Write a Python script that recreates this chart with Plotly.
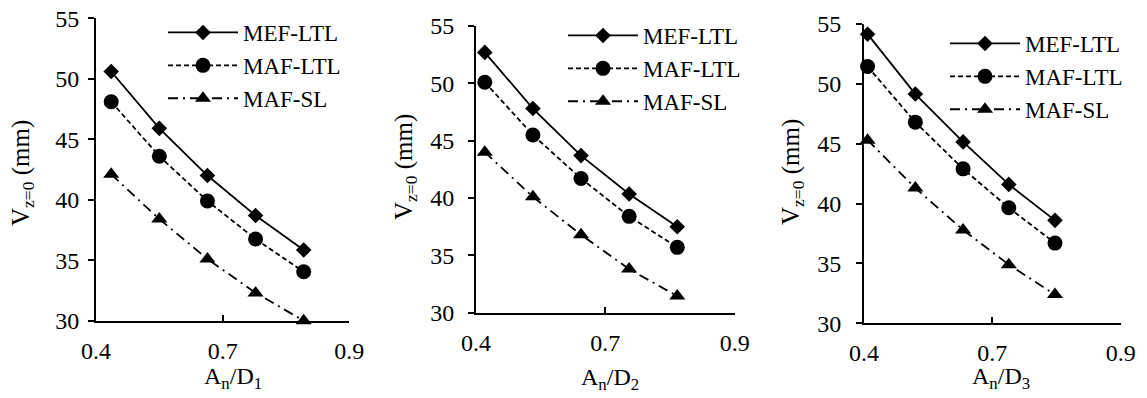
import plotly.graph_objects as go

W, H = 1147, 398
OFF = 8  # page body margin of the browser shifts the figure by this many pixels

# ---------------- data ----------------
series_names = ["MEF-LTL", "MAF-LTL", "MAF-SL"]

x1 = [0.48, 0.575, 0.67, 0.765, 0.86]
mef_ltl_1 = [50.6, 45.9, 42.0, 38.7, 35.85]
maf_ltl_1 = [48.1, 43.6, 39.9, 36.75, 34.05]
maf_sl_1 = [42.1, 38.4, 35.1, 32.3, 30.0]

x2 = [0.467, 0.56, 0.653, 0.746, 0.839]
mef_ltl_2 = [52.7, 47.8, 43.7, 40.35, 37.5]
maf_ltl_2 = [50.1, 45.5, 41.7, 38.4, 35.7]
maf_sl_2 = [44.0, 40.1, 36.8, 33.8, 31.45]

x3 = [0.457, 0.55, 0.643, 0.732, 0.822]
mef_ltl_3 = [54.15, 49.15, 45.15, 41.6, 38.6]
maf_ltl_3 = [51.45, 46.8, 42.9, 39.65, 36.7]
maf_sl_3 = [45.3, 41.3, 37.8, 34.9, 32.4]

x_tick_vals = [0.45, 0.70, 0.95]
x_tick_text = ["0.4", "0.7", "0.9"]
y_tick_vals = [30, 35, 40, 45, 50, 55]

x_titles = ["A<sub>n</sub>/D<sub>1</sub>", "A<sub>n</sub>/D<sub>2</sub>", "A<sub>n</sub>/D<sub>3</sub>"]
y_title = "V<sub>z=0</sub> (mm)"

panels = [
    (x1, [mef_ltl_1, maf_ltl_1, maf_sl_1]),
    (x2, [mef_ltl_2, maf_ltl_2, maf_sl_2]),
    (x3, [mef_ltl_3, maf_ltl_3, maf_sl_3]),
]

# ---------------- layout geometry (screen pixels) ----------------
areas = [(96, 349.3, 18.3, 320.7), (476, 734.7, 26, 312.7), (864, 1120.7, 24, 323.3)]
ytitle_pos = [(23, 173), (405, 167), (792, 172)]
xtitle_pos = [(233, 378), (610, 379), (1001, 378)]
legend_pos = [(163, 11), (563, 14), (945, 22)]
ylab_standoff = [4, 9, 10]


def px(x):
    return (x - OFF) / W


def py(y):
    return 1 - (y - OFF) / H


FONT = "Liberation Serif"
styles = [
    dict(dash="solid", symbol="diamond", size=12),
    dict(dash="5px,3px", symbol="circle", size=15),
    dict(dash="10px,5px,2px,5px", symbol="triangle-up", size=14),
]

fig = go.Figure()
legend_ids = ["legend", "legend2", "legend3"]

for i, (xs, ys_list) in enumerate(panels):
    xa = "x" if i == 0 else f"x{i+1}"
    ya = "y" if i == 0 else f"y{i+1}"
    for name, ys, st in zip(series_names, ys_list, styles):
        fig.add_trace(go.Scatter(
            x=xs, y=ys, name=name, mode="lines+markers",
            xaxis=xa, yaxis=ya, legend=legend_ids[i],
            line=dict(color="black", width=1.8, dash=st["dash"]),
            marker=dict(symbol=st["symbol"], size=st["size"], color="black"),
            cliponaxis=False,
        ))

layout = dict(
    template="none",
    width=W, height=H,
    margin=dict(l=0, r=0, t=0, b=0, pad=0, autoexpand=False),
    paper_bgcolor="white", plot_bgcolor="white",
    font=dict(family=FONT, color="black", size=23),
    annotations=[],
)

for i, (l, r, t, b) in enumerate(areas):
    sfx = "" if i == 0 else str(i + 1)
    layout[f"xaxis{sfx}"] = dict(
        domain=[px(l), px(r)], range=[0.45, 0.95], anchor=f"y{sfx}",
        tickvals=x_tick_vals, ticktext=x_tick_text, automargin=False,
        showgrid=False, zeroline=False, showline=True, linecolor="black", linewidth=2,
        ticks="inside", ticklen=6, tickcolor="black", tickwidth=1.5,
        ticklabelstandoff=7, ticklabeloverflow="allow", tickfont=dict(size=24, family=FONT),
    )
    layout[f"yaxis{sfx}"] = dict(
        domain=[py(b), py(t)], range=[30, 55], anchor=f"x{sfx}",
        tickvals=y_tick_vals, automargin=False,
        showgrid=False, zeroline=False, showline=True, linecolor="black", linewidth=2,
        ticks="outside", ticklen=6, tickcolor="black", tickwidth=1.5,
        ticklabelstandoff=ylab_standoff[i], ticklabeloverflow="allow",
        tickfont=dict(size=24, family=FONT),
    )
    lx, ly = legend_pos[i]
    layout[legend_ids[i]] = dict(
        x=px(lx), y=py(ly), xanchor="left", yanchor="top",
        xref="paper", yref="paper",
        bgcolor="rgba(0,0,0,0)", itemwidth=70, borderwidth=0,
        font=dict(family=FONT, size=23, color="black"),
        tracegroupgap=0,
    )
    tx, ty = ytitle_pos[i]
    layout["annotations"].append(dict(
        text=y_title, x=px(tx), y=py(ty), xref="paper", yref="paper",
        showarrow=False, textangle=-90, xanchor="center", yanchor="middle",
        font=dict(family=FONT, size=25, color="black"),
    ))
    ax, ay = xtitle_pos[i]
    layout["annotations"].append(dict(
        text=x_titles[i], x=px(ax), y=py(ay), xref="paper", yref="paper",
        showarrow=False, xanchor="center", yanchor="middle",
        font=dict(family=FONT, size=24, color="black"),
    ))

fig.update_layout(**layout)
fig.write_html("out.html")
